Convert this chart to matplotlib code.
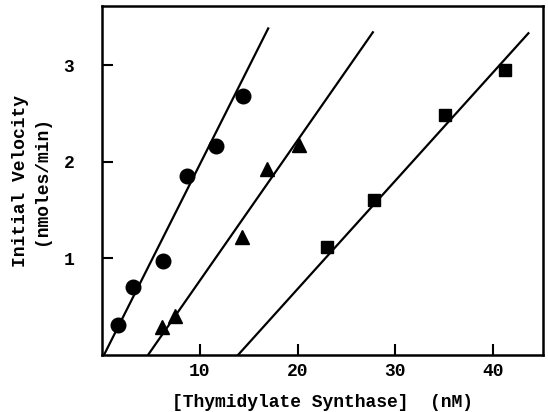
import numpy as np
import matplotlib
matplotlib.use("Agg")
import matplotlib.pyplot as plt

# data
circle_x = [1.6, 3.2, 6.2, 8.7, 11.7, 14.4]
circle_y = [0.31, 0.70, 0.97, 1.85, 2.16, 2.68]
tri_x = [6.1, 7.5, 14.3, 16.9, 20.1]
tri_y = [0.29, 0.40, 1.22, 1.93, 2.17]
sq_x = [23.0, 27.8, 35.1, 41.2]
sq_y = [1.12, 1.60, 2.48, 2.95]

# fitted lines: (x at y=0, x at top end, y at top end)
fit_lines = [(0.2, 17.0, 3.38), (4.7, 27.7, 3.34), (13.9, 43.6, 3.33)]

xticks = [10, 20, 30, 40]
yticks = [1, 2, 3]

plt.rcParams['font.family'] = ['Liberation Mono', 'DejaVu Sans']
plt.rcParams['font.weight'] = 'bold'

fig = plt.figure(figsize=(5.48, 4.12), dpi=100)
ax = fig.add_axes([0.186, 0.138, 0.805, 0.847])

for x0, x1, y1 in fit_lines:
    ax.plot([x0, x1], [0, y1], color='black', lw=1.6)

ax.plot(circle_x, circle_y, 'o', color='black', ms=10.5, ls='none')
ax.plot(tri_x, tri_y, '^', color='black', ms=10, ls='none')
ax.plot(sq_x, sq_y, 's', color='black', ms=8.5, ls='none')

ax.set_xlim(0, 45.1)
ax.set_ylim(0, 3.61)
ax.set_xticks(xticks)
ax.set_yticks(yticks)
ax.tick_params(direction='in', length=8, width=1.5, labelsize=13)
ax.tick_params(axis='x', pad=6)
ax.tick_params(axis='y', pad=20)
for s in ax.spines.values():
    s.set_linewidth(1.8)

ax.set_xlabel('[Thymidylate Synthase]  (nM)', fontsize=13, fontweight='bold', labelpad=10)
ax.set_ylabel('Initial Velocity\n(nmoles/min)', fontsize=13, fontweight='bold',
              labelpad=10, linespacing=1.25)

fig.savefig('out.png', dpi=100)
